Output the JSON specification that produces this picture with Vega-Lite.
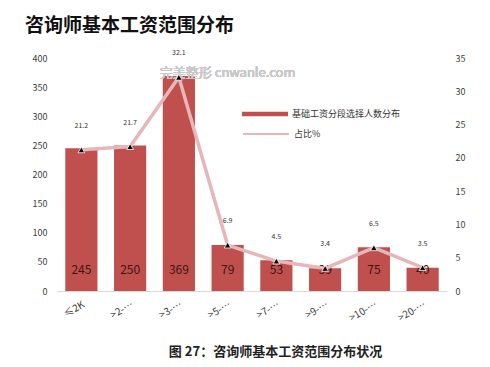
{
  "$schema": "https://vega.github.io/schema/vega-lite/v6.json",
  "width": 390,
  "height": 233,
  "autosize": "none",
  "padding": {"left": 57, "top": 58, "right": 43, "bottom": 76},
  "background": "white",
  "config": {
    "font": "Noto Sans CJK SC",
    "view": {"stroke": null},
    "axis": {"labelColor": "#404040", "labelFont": "Noto Sans CJK SC", "labelFontSize": 9, "grid": false, "ticks": false, "labelOverlap": false}
  },
  "title": {
    "text": "咨询师基本工资范围分布",
    "anchor": "start",
    "frame": "group",
    "dx": -32,
    "offset": 13,
    "fontSize": 19,
    "fontWeight": "bold",
    "color": "#111111",
    "font": "Noto Sans CJK SC"
  },
  "data": {
    "values": [
      {"range": "≤2K", "count": 245, "pct": 21.2, "s1": "基础工资分段选择人数分布", "s2": "占比%"},
      {"range": ">2-…", "count": 250, "pct": 21.7, "s1": "基础工资分段选择人数分布", "s2": "占比%"},
      {"range": ">3-…", "count": 369, "pct": 32.1, "s1": "基础工资分段选择人数分布", "s2": "占比%"},
      {"range": ">5-…", "count": 79, "pct": 6.9, "s1": "基础工资分段选择人数分布", "s2": "占比%"},
      {"range": ">7-…", "count": 53, "pct": 4.5, "s1": "基础工资分段选择人数分布", "s2": "占比%"},
      {"range": ">9-…", "count": 39, "pct": 3.4, "s1": "基础工资分段选择人数分布", "s2": "占比%"},
      {"range": ">10-…", "count": 75, "pct": 6.5, "s1": "基础工资分段选择人数分布", "s2": "占比%"},
      {"range": ">20-…", "count": 40, "pct": 3.5, "s1": "基础工资分段选择人数分布", "s2": "占比%"}
    ]
  },
  "encoding": {
    "x": {
      "field": "range",
      "type": "nominal",
      "sort": null,
      "scale": {"paddingInner": 0.34, "paddingOuter": 0.17},
      "axis": {
        "title": "图 27：咨询师基本工资范围分布状况",
        "titleFont": "Noto Sans CJK SC",
        "titleFontSize": 13,
        "titleFontWeight": "bold",
        "titleColor": "#222222",
        "titleX": 218,
        "titleY": 54,
        "titleAlign": "center",
        "labelAngle": -30,
        "labelPadding": 8,
        "labelFontSize": 10,
        "domainColor": "#d9d9d9",
        "domainWidth": 1
      }
    }
  },
  "layer": [
    {
      "encoding": {
        "y": {
          "field": "count",
          "type": "quantitative",
          "scale": {"domain": [0, 400]},
          "axis": {"title": null, "orient": "left", "domain": false, "values": [0, 50, 100, 150, 200, 250, 300, 350, 400], "labelPadding": 10}
        }
      },
      "layer": [
        {
          "mark": {"type": "bar", "color": "#c0504d"},
          "encoding": {
            "color": {
              "field": "s1",
              "type": "nominal",
              "scale": {"range": ["#c0504d"]},
              "legend": {
                "title": null,
                "orient": "none",
                "legendX": 185,
                "legendY": 33,
                "symbolType": "M-1,-0.1H1V0.1H-1Z",
                "symbolSize": 2116,
                "symbolStrokeWidth": 0,
                "labelFontSize": 9,
                "labelColor": "#333333",
                "labelOffset": 4
              }
            }
          }
        },
        {
          "mark": {"type": "text", "fontSize": 12, "color": "#3b1515", "baseline": "middle", "dy": -21},
          "encoding": {
            "y": {"datum": 0},
            "text": {"field": "count", "type": "quantitative"}
          }
        },
        {
          "mark": {"type": "text", "fontSize": 13, "color": "#c8c8c8", "text": "完美整形 cnwanle.com"},
          "encoding": {
            "x": {"datum": ">5-…"},
            "y": {"datum": 374}
          }
        }
      ]
    },
    {
      "encoding": {
        "y": {
          "field": "pct",
          "type": "quantitative",
          "scale": {"domain": [0, 35]},
          "axis": {"title": null, "orient": "right", "domain": false, "values": [0, 5, 10, 15, 20, 25, 30, 35], "labelPadding": 8}
        }
      },
      "layer": [
        {
          "mark": {"type": "line", "strokeWidth": 3.5, "color": "#e6b6ba"},
          "encoding": {
            "stroke": {
              "field": "s2",
              "type": "nominal",
              "scale": {"range": ["#e6b6ba"]},
              "legend": {
                "title": null,
                "orient": "none",
                "legendX": 185,
                "legendY": 52,
                "symbolType": "stroke",
                "symbolSize": 2116,
                "symbolStrokeWidth": 2,
                "labelFontSize": 9,
                "labelColor": "#333333",
                "labelOffset": 4
              }
            }
          }
        },
        {
          "mark": {"type": "point", "shape": "triangle-up", "filled": true, "color": "#000000", "size": 45, "stroke": "white", "strokeWidth": 0.8, "opacity": 1}
        },
        {
          "mark": {"type": "text", "fontSize": 7, "color": "#333333", "dy": -24},
          "encoding": {
            "text": {"field": "pct", "type": "quantitative", "format": ".1f"}
          }
        }
      ]
    }
  ],
  "resolve": {"scale": {"y": "independent", "color": "independent", "stroke": "independent"}}
}
